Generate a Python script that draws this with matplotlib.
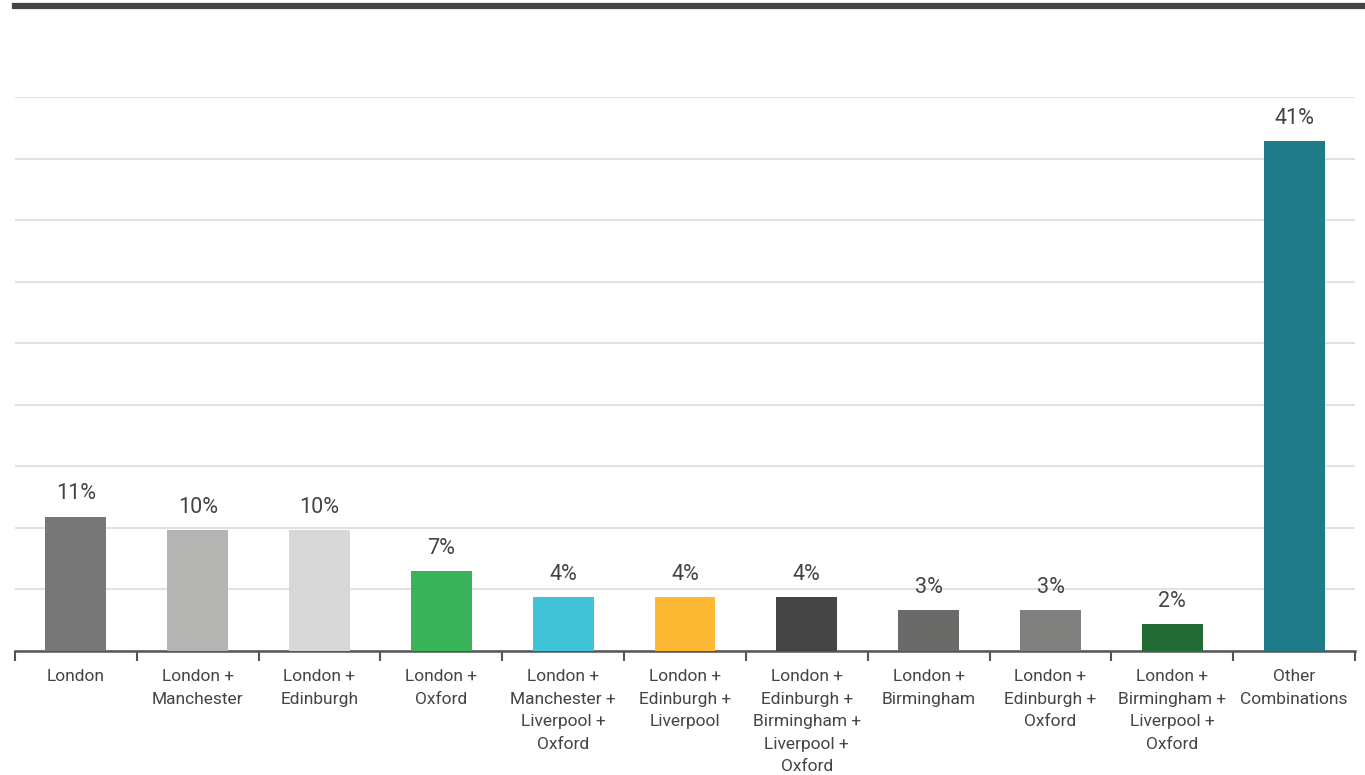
import matplotlib.pyplot as plt
from matplotlib.lines import Line2D

categories = ['London', 'London +\nManchester', 'London +\nEdinburgh', 'London +\nOxford',
              'London +\nManchester +\nLiverpool +\nOxford', 'London +\nEdinburgh +\nLiverpool',
              'London +\nEdinburgh +\nBirmingham +\nLiverpool +\nOxford', 'London +\nBirmingham',
              'London +\nEdinburgh +\nOxford', 'London +\nBirmingham +\nLiverpool +\nOxford',
              'Other\nCombinations']
values = [10.9, 9.8, 9.8, 6.5, 4.4, 4.4, 4.4, 3.3, 3.3, 2.2, 41.4]
labels = ['11%', '10%', '10%', '7%', '4%', '4%', '4%', '3%', '3%', '2%', '41%']
colors = ['#777777', '#b4b4b3', '#d7d7d7', '#39b35a', '#40c3d6', '#fdb933',
          '#454545', '#6a6a69', '#80807f', '#236b34', '#1f7b88']

plt.rcParams['font.family'] = ['Roboto', 'DejaVu Sans']

fig = plt.figure(figsize=(13.65, 7.75), dpi=100)
ax = fig.add_axes([15 / 1365, 124 / 775, 1340 / 1365, 554 / 775])

x = list(range(len(categories)))
ax.bar(x, values, width=0.5, color=colors, zorder=3)
for xi, v, lab in zip(x, values, labels):
    ax.text(xi, v + 1.0, lab, ha='center', va='bottom', fontsize=15.5, color='#444444')

ax.set_xlim(-0.5, len(categories) - 0.5)
ax.set_ylim(0, 45)
ax.set_yticks(range(0, 50, 5))
ax.yaxis.grid(True, color='#e2e2e2', linewidth=1.5, zorder=0)
ax.tick_params(axis='y', left=False, labelleft=False)
for s in ['top', 'right', 'left']:
    ax.spines[s].set_visible(False)
ax.spines['bottom'].set_color('#555555')
ax.spines['bottom'].set_linewidth(1.8)

# ticks at category boundaries, labels centred
ax.set_xticks([i - 0.5 for i in range(len(categories) + 1)])
ax.set_xticklabels([])
ax.tick_params(axis='x', length=7, width=1.5, color='#555555')
ax.set_xticks(x, minor=True)
ax.set_xticklabels(categories, minor=True, fontsize=12.5, color='#444444', linespacing=1.63)
ax.tick_params(axis='x', which='minor', length=0, pad=13)

# dark rule at the top
fig.add_artist(Line2D([15 / 1365, 1.0], [769 / 775, 769 / 775], color='#444444', linewidth=4.5))

fig.savefig('out.png', dpi=100)
